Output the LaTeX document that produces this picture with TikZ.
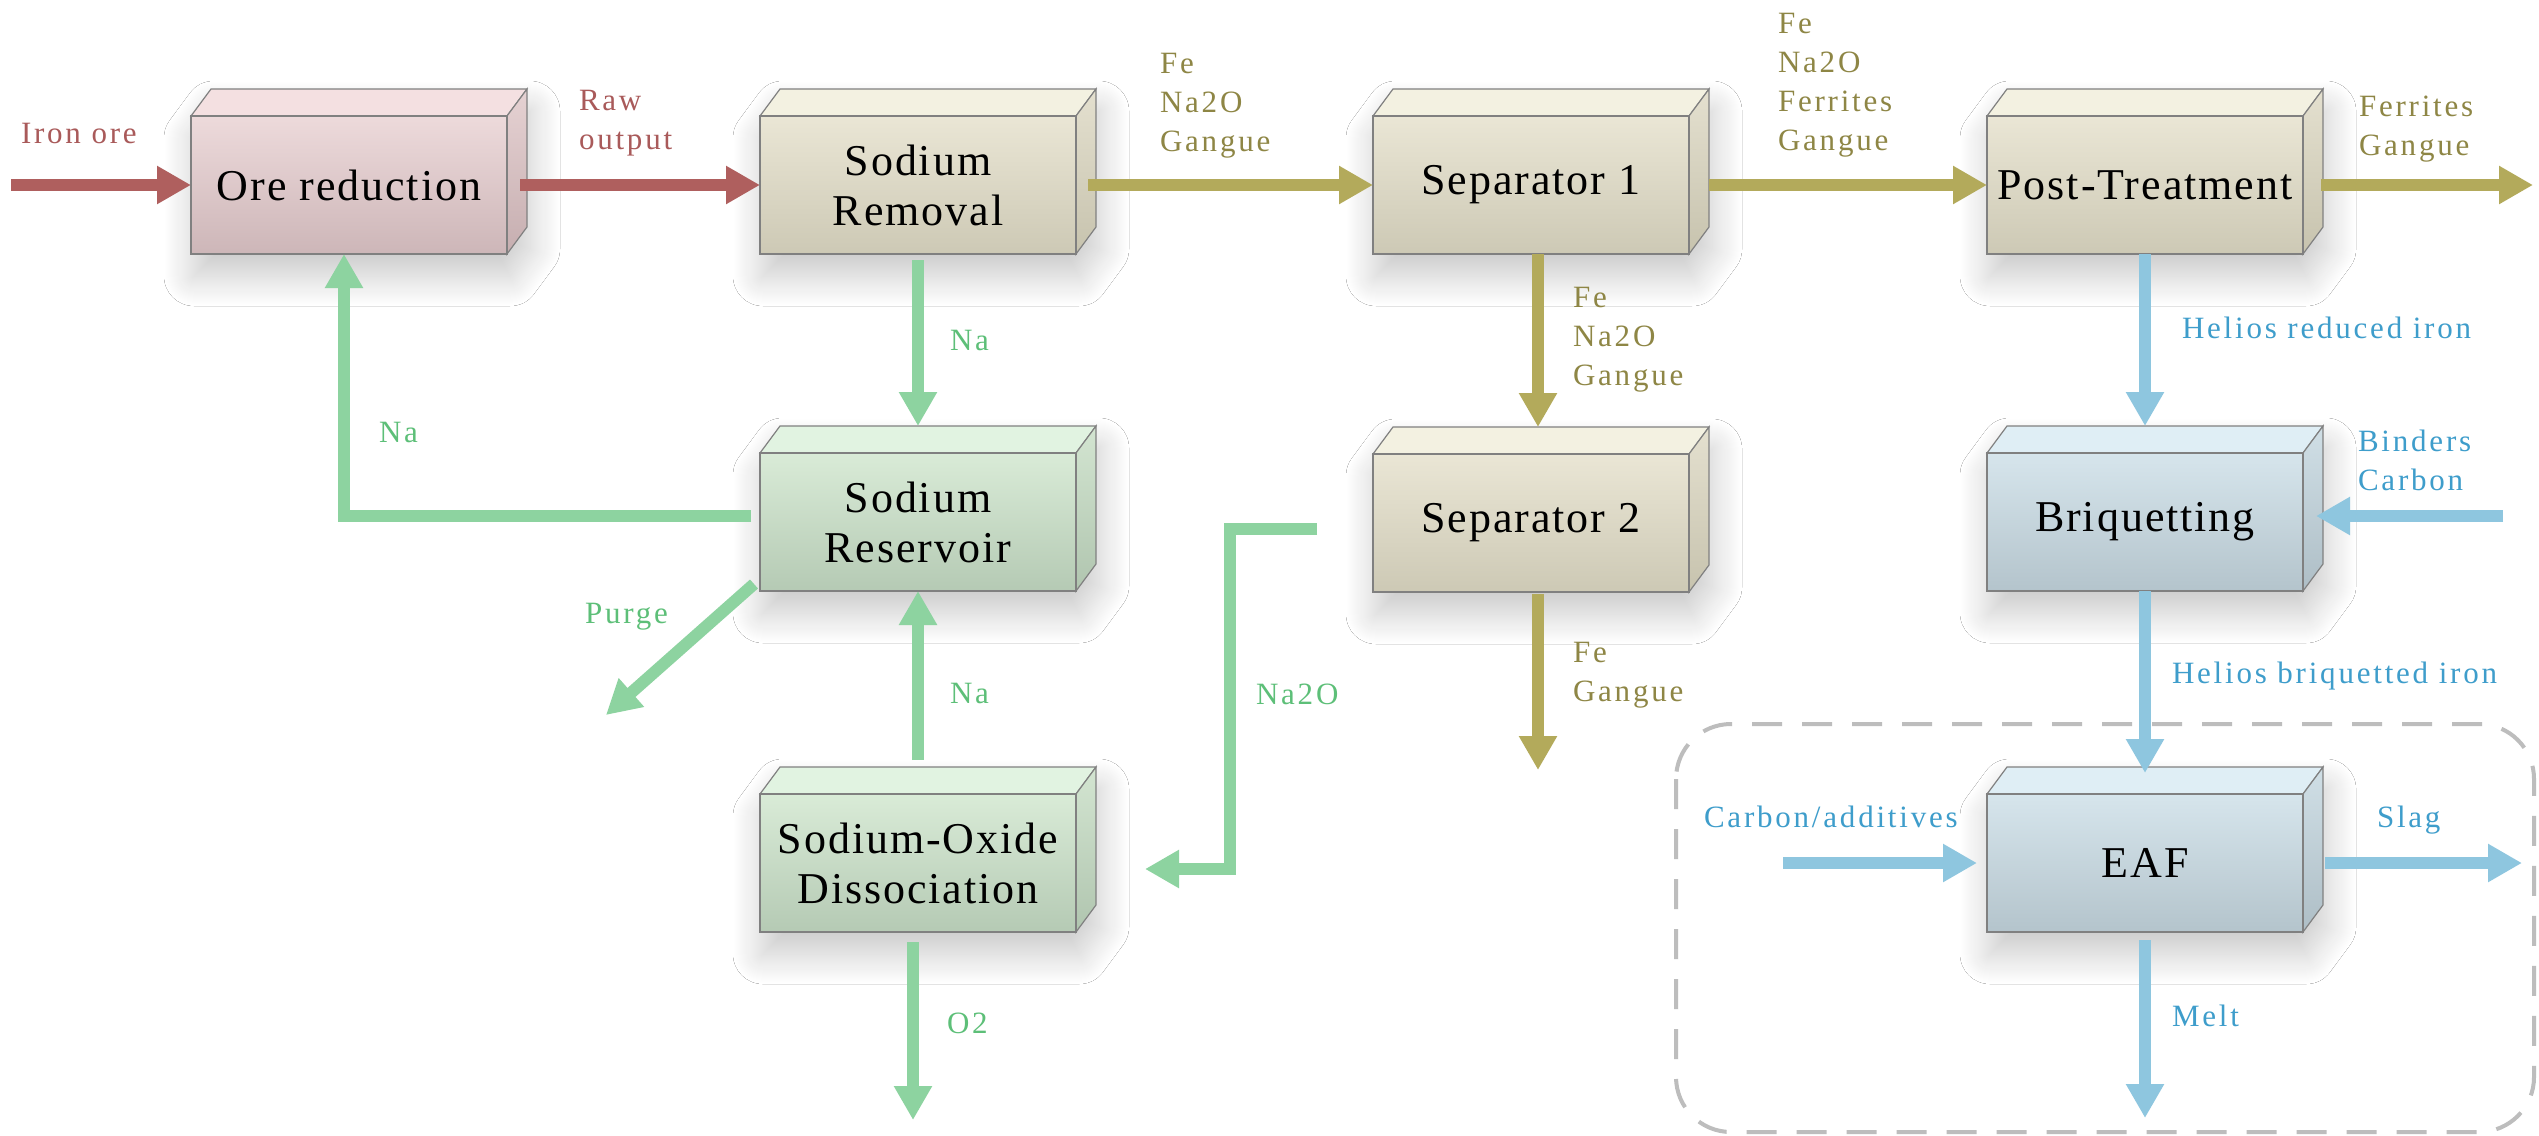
\documentclass[tikz,border=0pt]{standalone}
\usepackage{fontspec}
\setmainfont{Liberation Serif}
\newfontfamily\boxfont{Liberation Serif}[LetterSpace=4.4]
\newfontfamily\lblfont{Liberation Serif}[LetterSpace=9]
\usetikzlibrary{arrows.meta,shadows.blur}
\definecolor{edgecol}{HTML}{808080}
% arrow colours
\definecolor{arrRed}{HTML}{AF5F5E}
\definecolor{arrOl}{HTML}{B3AA5B}
\definecolor{arrGr}{HTML}{8DD3A0}
\definecolor{arrBl}{HTML}{8EC6DF}
% text colours
\definecolor{txtRed}{HTML}{A95A5A}
\definecolor{txtOl}{HTML}{8E8645}
\definecolor{txtGr}{HTML}{5DBF78}
\definecolor{txtBl}{HTML}{3E9DCB}
\definecolor{dashgray}{HTML}{BDBDBD}
% box themes
\definecolor{crT}{HTML}{F4E0E1}\definecolor{crF1}{HTML}{EDDADB}\definecolor{crF2}{HTML}{CDB6B8}\definecolor{crS1}{HTML}{E6D2D3}\definecolor{crS2}{HTML}{C6AEB0}
\definecolor{ctT}{HTML}{F3F1E1}\definecolor{ctF1}{HTML}{EAE6D5}\definecolor{ctF2}{HTML}{CDC9B5}\definecolor{ctS1}{HTML}{E4E0CF}\definecolor{ctS2}{HTML}{C7C3AE}
\definecolor{cgT}{HTML}{E1F3E1}\definecolor{cgF1}{HTML}{D9EBD7}\definecolor{cgF2}{HTML}{B5CAB4}\definecolor{cgS1}{HTML}{D3E5D1}\definecolor{cgS2}{HTML}{B0C5AF}
\definecolor{cbT}{HTML}{DFEEF5}\definecolor{cbF1}{HTML}{D6E5EC}\definecolor{cbF2}{HTML}{B4C4CC}\definecolor{cbS1}{HTML}{D0DFE6}\definecolor{cbS2}{HTML}{AEBEC6}
\tikzset{
  procnode/.style={rectangle, minimum width=316pt, minimum height=138pt, inner sep=0pt, outer sep=0pt,
    draw=edgecol, line width=1.2pt, align=center, text=black,
    font=\boxfont\fontsize{44}{50}\selectfont},
  flow/.style={line width=12pt, -{Triangle[width=36pt,length=34pt]}},
  fr/.style={flow, draw=arrRed},
  fo/.style={flow, draw=arrOl},
  fg/.style={flow, draw=arrGr},
  fb/.style={flow, draw=arrBl},
  lbl/.style={anchor=north west, inner sep=0pt, outer sep=0pt, align=left,
    font=\lblfont\fontsize{31}{39}\selectfont},
  lr/.style={lbl, text=txtRed},
  lo/.style={lbl, text=txtOl},
  lg/.style={lbl, text=txtGr},
  lb/.style={lbl, text=txtBl},
  dashbox/.style={draw=dashgray, line width=4pt, dash pattern=on 30pt off 20pt, rounded corners=55pt},
  boxshadow/.style={blur shadow={shadow xshift=3pt, shadow yshift=-22pt, shadow blur radius=30pt, shadow blur steps=30, shadow opacity=22}}
}
\newcommand\procbox[5]{%
  \path[fill=white, boxshadow] ({#2-158},{#3+69}) -- ({#2-158},{#3-69}) -- ({#2-138},{#3-96}) -- ({#2+178},{#3-96}) -- ({#2+178},{#3+42}) -- ({#2+158},{#3+69}) -- cycle;
  \filldraw[fill=#4T, draw=edgecol, line width=1.2pt] ({#2-158},{#3-69}) -- ({#2-138},{#3-96}) -- ({#2+178},{#3-96}) -- ({#2+158},{#3-69}) -- cycle;
  \shadedraw[top color=#4S1, bottom color=#4S2, draw=edgecol, line width=1.2pt] ({#2+158},{#3-69}) -- ({#2+178},{#3-96}) -- ({#2+178},{#3+42}) -- ({#2+158},{#3+69}) -- cycle;
  \node[procnode, top color=#4F1, bottom color=#4F2] (#1) at (#2,#3) {#5};
}
\begin{document}
\begin{tikzpicture}[x=1pt, y=-1pt]
\fill[white] (0,0) rectangle (2539,1135);
\useasboundingbox (0,0) rectangle (2539,1135);

% dashed EAF region
\draw[dashbox] (1676,724) rectangle (2534,1132);

% boxes
\procbox{ore}{349}{185}{cr}{Ore reduction}
\procbox{srem}{918}{185}{ct}{Sodium\\Removal}
\procbox{sepa}{1531}{185}{ct}{Separator 1}
\procbox{post}{2145}{185}{ct}{Post-Treatment}
\procbox{res}{918}{522}{cg}{Sodium\\Reservoir}
\procbox{sepb}{1531}{523}{ct}{Separator 2}
\procbox{briq}{2145}{522}{cb}{Briquetting}
\procbox{diss}{918}{863}{cg}{Sodium-Oxide\\Dissociation}
\procbox{eaf}{2145}{863}{cb}{EAF}

% free ends
\coordinate (ironin) at (11,185);
\coordinate (postout) at (2533,185);
\coordinate (sepbout) at (1538,770);
\coordinate (o2out) at (913,1120);
\coordinate (purgeout) at (606,715);
\coordinate (na2oA) at (1230,529);
\coordinate (na2oB) at (1230,869);
\coordinate (bindin) at (2503,516);
\coordinate (carbin) at (1783,863);
\coordinate (slagout) at (2522,863);
\coordinate (meltout) at (2145,1118);

% red flows
\draw[fr] (ironin) -- (ore.west);
\draw[fr] ([xshift=13pt]ore.east) -- (srem.west);
% olive flows
\draw[fo] ([xshift=12pt]srem.east) -- (sepa.west);
\draw[fo] ([xshift=20pt]sepa.east) -- (post.west);
\draw[fo] ([xshift=18pt]post.east) -- (postout);
\draw[fo] ([xshift=7pt]sepa.south) -- ([xshift=7pt,yshift=27pt]sepb.north);
\draw[fo] ([xshift=7pt,yshift=-2pt]sepb.south) -- (sepbout);
% green flows
\draw[fg] ([yshift=-6pt]srem.south) -- ([yshift=27pt]res.north);
\draw[fg] ([yshift=34pt]diss.north) -- (res.south);
\draw[fg] ([xshift=-5pt,yshift=-10pt]diss.south) -- (o2out);
\draw[fg] ([xshift=-9pt,yshift=6pt]res.west) -| ([xshift=-5pt]ore.south);
\draw[fg] ([xshift=-6pt,yshift=7pt]res.south west) -- (purgeout);
\draw[fg] ([xshift=-56pt,yshift=-6pt]sepb.west) -- (na2oA) -- (na2oB) -- ([xshift=69pt,yshift=-6pt]diss.east);
% blue flows
\draw[fb] (post.south) -- ([yshift=27pt]briq.north);
\draw[fb] (bindin) -- ([xshift=13pt,yshift=6pt]briq.east);
\draw[fb] (briq.south) -- ([yshift=21pt]eaf.north);
\draw[fb] (carbin) -- ([xshift=-10pt]eaf.west);
\draw[fb] ([xshift=22pt]eaf.east) -- (slagout);
\draw[fb] ([yshift=-8pt]eaf.south) -- (meltout);

% labels
\node[lr] (lIron) at (21,123) {Iron ore};
\node[lr] (lRaw) at (579,90) {Raw\\output};
\node[lo] (lSrem) at (1160,53) {Fe\\Na2O\\Gangue};
\node[lo] (lSepa) at (1778,13) {Fe\\Na2O\\Ferrites\\Gangue};
\node[lo] (lPost) at (2359,96) {Ferrites\\Gangue};
\node[lo] (lSepaD) at (1573,287) {Fe\\Na2O\\Gangue};
\node[lo] (lSepbD) at (1573,642) {Fe\\Gangue};
\node[lg] (lNaA) at (950,330) {Na};
\node[lg] (lNaB) at (379,422) {Na};
\node[lg] (lPurge) at (585,603) {Purge};
\node[lg] (lNaC) at (950,683) {Na};
\node[lg] (lNa2O) at (1256,684) {Na2O};
\node[lg] (lO2) at (947,1013) {O2};
\node[lb] (lHri) at (2182,317) {Helios reduced iron};
\node[lb] (lBind) at (2358,430) {Binders\\Carbon};
\node[lb] (lHbi) at (2172,662) {Helios briquetted iron};
\node[lb] (lCarb) at (1704,806) {Carbon/additives};
\node[lb] (lSlag) at (2377,806) {Slag};
\node[lb] (lMelt) at (2172,1005) {Melt};
\end{tikzpicture}
\end{document}
